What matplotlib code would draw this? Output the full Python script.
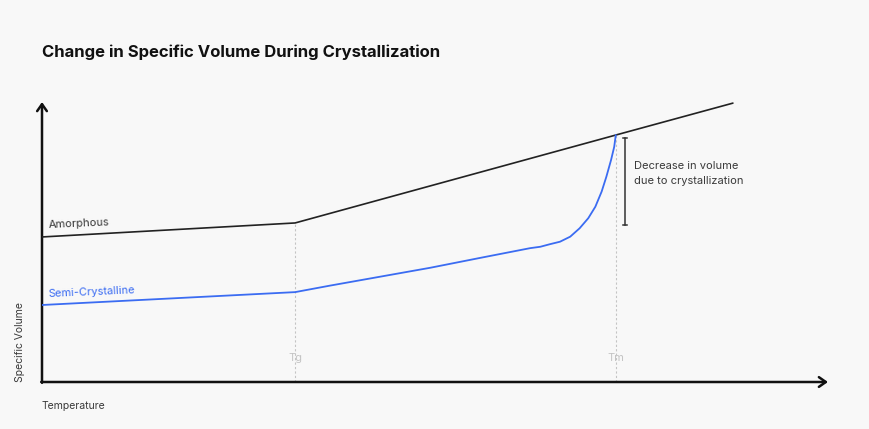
import matplotlib.pyplot as plt

plt.rcParams['font.family'] = ['Inter', 'DejaVu Sans']

# Characteristic temperatures (arbitrary units along the temperature axis)
tg = 32.2
tm = 73.0

# Amorphous curve: temperature / specific volume
amorph_t = [0, 32.2, 73.0, 87.9]
amorph_v = [51.8, 56.8, 88.2, 99.6]

# Semi-crystalline curve
semi_t = [0, 32.2, 36.6, 43.0, 49.4, 55.7, 62.1, 63.4, 64.6, 65.9, 67.2, 68.4,
          69.5, 70.4, 71.2, 71.8, 72.4, 72.8, 73.0]
semi_v = [27.5, 32.1, 34.4, 37.6, 40.8, 44.3, 47.8, 48.3, 49.2, 50.1, 51.9, 54.9,
          58.5, 62.6, 68.0, 73.3, 79.3, 84.0, 88.2]

# volume drop bracket
drop_top = 87.1
drop_bottom = 56.1

bg = '#f8f8f8'
blue = '#3b6cf2'
grey = '#c4c4c4'
txt = '#3a3a3a'

fig = plt.figure(figsize=(8.7, 4.29), dpi=100, facecolor=bg)
ax = fig.add_axes([42 / 870, 47 / 429, 786 / 870, 280 / 429])
ax.set_facecolor(bg)
ax.set_xlim(0, 100)
ax.set_ylim(0, 100)
ax.axis('off')

# axes arrows
arrow = dict(arrowstyle='->,head_length=0.5,head_width=0.35', color='#111111', lw=1.8,
             shrinkA=0, shrinkB=0)
ax.annotate('', xy=(100, 0), xytext=(-0.1, 0), arrowprops=arrow, annotation_clip=False)
ax.annotate('', xy=(0, 100), xytext=(0, -0.3), arrowprops=arrow, annotation_clip=False)

# dotted guide lines at Tg and Tm
ax.plot([tg, tg], [0, amorph_v[1]], color=grey, lw=0.8, ls=(0, (2, 2)), zorder=1)
ax.plot([tm, tm], [0, amorph_v[2]], color=grey, lw=0.8, ls=(0, (2, 2)), zorder=1)
ax.text(tg, 8.5, 'Tg', color=grey, fontsize=8, ha='center', va='center')
ax.text(tm, 8.5, 'Tm', color=grey, fontsize=8, ha='center', va='center')

# curves
ax.plot(amorph_t, amorph_v, color='#222222', lw=1.2, solid_capstyle='round', zorder=3)
ax.plot(semi_t, semi_v, color=blue, lw=1.3, solid_capstyle='round',
        solid_joinstyle='round', zorder=3)

ax.text(0.8, 54.3, 'Amorphous', color=txt, fontsize=8, rotation=2.5,
        ha='left', va='bottom', rotation_mode='anchor')
ax.text(0.8, 29.8, 'Semi-Crystalline', color=blue, fontsize=8, rotation=2.5,
        ha='left', va='bottom', rotation_mode='anchor')

# bracket showing decrease in volume
bx = 74.2
ax.plot([bx, bx], [drop_bottom, drop_top], color='#333333', lw=1.1)
ax.plot([bx - 0.25, bx + 0.25], [drop_top, drop_top], color='#333333', lw=1.1)
ax.plot([bx - 0.25, bx + 0.25], [drop_bottom, drop_bottom], color='#333333', lw=1.1)
ax.text(75.3, 74.5, 'Decrease in volume\ndue to crystallization', color=txt,
        fontsize=8, ha='left', va='center', linespacing=1.6)

# axis titles
fig.text(20 / 870, 1 - 342 / 429, 'Specific Volume', rotation=90, fontsize=7.5,
         color=txt, ha='center', va='center')
fig.text(42 / 870, 1 - 406 / 429, 'Temperature', fontsize=7.5, color=txt,
         ha='left', va='center')

fig.text(42 / 870, 1 - 52 / 429, 'Change in Specific Volume During Crystallization',
         fontsize=12, fontweight='bold', color='#111111', ha='left', va='center')

fig.savefig('out.png', dpi=100, facecolor=bg)
